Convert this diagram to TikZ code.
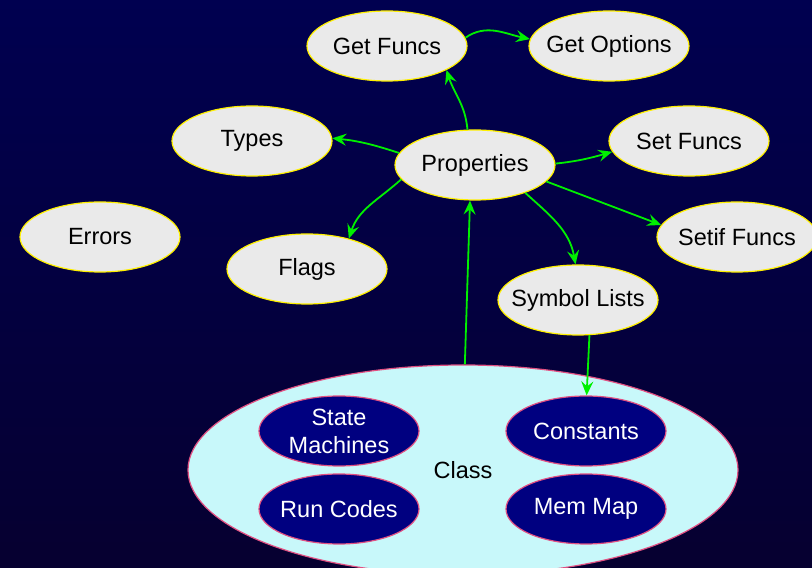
\documentclass[tikz,border=0pt]{standalone}
\usepackage{fontspec}
\setmainfont{Liberation Sans}
\usepackage{tikz}
\usetikzlibrary{shapes.geometric, positioning, arrows.meta}

\definecolor{bgtop}{RGB}{0,0,80}
\definecolor{bgmid}{RGB}{0,0,104}
\definecolor{bgbot}{RGB}{6,0,48}
\definecolor{bubble}{RGB}{234,234,234}
\definecolor{rim}{RGB}{255,240,0}
\definecolor{classfill}{RGB}{200,248,250}
\definecolor{classrim}{RGB}{225,80,130}
\definecolor{navy}{RGB}{0,0,128}
\definecolor{wire}{RGB}{0,240,0}

\begin{document}
\begin{tikzpicture}[x=1pt, y=1pt, on grid,
    topic/.style={ellipse, draw=rim, line width=1.2pt, fill=bubble,
        minimum width=160pt, minimum height=70pt,
        inner xsep=-20pt, inner ysep=-2pt,
        font=\fontsize{23.5}{28}\selectfont, align=center},
    part/.style={topic, draw=classrim, fill=navy, text=white},
    link/.style={color=wire, line width=1.8pt,
        -{Stealth[length=14pt, width=12pt, inset=5pt]}}]
    \useasboundingbox (0,0) rectangle (812,568);
    \clip (0,0) rectangle (812,568);
    \shade[top color=bgtop, middle color=bgmid, bottom color=bgbot]
        (0,0) rectangle (812,568);

    \node[topic] (props) at (475,403) {Properties};
    \node[topic] (getf) at (387,522) {Get Funcs};
    \node[topic] (geto) [right=222pt of getf] {Get Options};
    \node[topic] (types) at (252,427) {Types};
    \node[topic] (setf) at (689,427) {Set Funcs};
    \node[topic] (errors) at (100,331) {Errors};
    \node[topic] (flags) at (307,299) {Flags};
    \node[topic] (setif) at (737,331) {Setif Funcs};
    \node[topic] (syml) at (578,268) {Symbol Lists};

    % class with its parts
    \node[topic, draw=classrim, fill=classfill, minimum width=550pt,
        minimum height=210pt] (class) at (463,98) {Class};
    \node[part] (statem) at (339,137) {State\\Machines};
    \node[part] (consts) [right=247pt of statem] {Constants};
    \node[part] (runc) [below=78pt of statem] {Run Codes};
    \node[part] (memmap) [below=78pt of consts] {Mem Map};

    \path[link]
    (getf.6) edge[out=35, in=168] (geto.175)
    (props.102) edge[out=95, in=-72] (getf.-22)
        (props.171) edge[out=162, in=-6] (types.2)
        (props.1) edge[out=6, in=196] (setf.188)
        (props.191) edge[out=222, in=72] (flags.36)
        (props.-13) edge (setif.171)
        (props.-29) edge[out=-42, in=100] (syml.94)
    (class.89) edge (props.262)
    (syml.-72) edge (consts.89);
\end{tikzpicture}
\end{document}
